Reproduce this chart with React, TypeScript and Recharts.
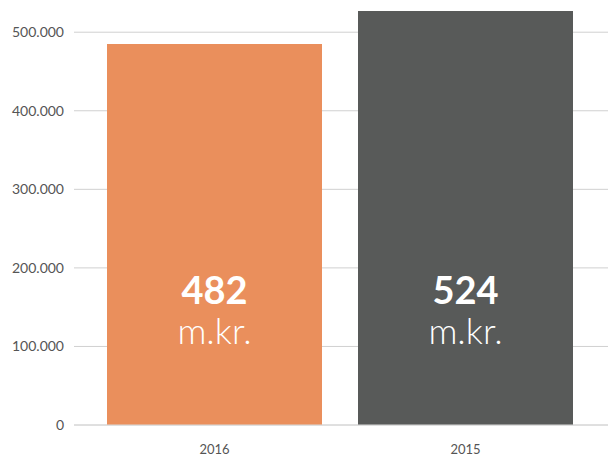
import { BarChart, Bar, XAxis, YAxis, CartesianGrid, Cell, LabelList } from "recharts";

const years = ["2016", "2015"];
const amounts = [485000, 527000];
const amountLabels = ["482", "524"];
const unitLabel = "m.kr.";
const barColors = ["#EA8F5C", "#585A59"];
const yTicks = [0, 100000, 200000, 300000, 400000, 500000];

const data = years.map((year, i) => ({
  year,
  amount: amounts[i],
  label: amountLabels[i],
}));

const yMax = Math.max(...amounts);

const fmt = (n: number) => (n === 0 ? "0" : n.toLocaleString("de-DE"));

function InsideLabel(props: any) {
  const { x, y, width, height, index } = props;
  const cx = x + width / 2;
  const bottom = y + height;
  return (
    <g>
      <text
        x={cx}
        y={bottom - 121}
        textAnchor="middle"
        fill="#fff"
        fontFamily="Lato, sans-serif"
        fontWeight={700}
        fontSize={38}
      >
        {amountLabels[index]}
      </text>
      <text
        x={cx}
        y={bottom - 81}
        textAnchor="middle"
        fill="#fff"
        fontFamily="Lato, sans-serif"
        fontWeight={300}
        fontSize={36}
      >
        {unitLabel}
      </text>
    </g>
  );
}

export default function App() {
  return (
    <div style={{ position: "absolute", left: 0, top: 0 }}>
      <BarChart
        width={608}
        height={462}
        data={data}
        margin={{ top: 11, right: 0, left: 0, bottom: 0 }}
      >
        <CartesianGrid
          vertical={false}
          stroke="#d0d0d0"
          horizontalCoordinatesGenerator={({ offset }: any) =>
            yTicks.map((t) => offset.top + offset.height * (1 - t / yMax))
          }
        />
        <XAxis
          dataKey="year"
          height={37}
          padding={{ left: 15, right: 17 }}
          tickLine={false}
          tickSize={0}
          tickMargin={20}
          axisLine={{ stroke: "#d8d8d8" }}
          tick={{ fill: "#555", fontSize: 13, fontFamily: "Lato, sans-serif" }}
        />
        <YAxis
          width={74}
          domain={[0, "dataMax"]}
          ticks={yTicks}
          tickFormatter={fmt}
          axisLine={false}
          tickLine={false}
          tickSize={0}
          tickMargin={10}
          tick={{ fill: "#555", fontSize: 14, fontFamily: "Lato, sans-serif" }}
        />
        <Bar dataKey="amount" barSize={215} isAnimationActive={false}>
          {data.map((d, i) => (
            <Cell key={d.year} fill={barColors[i]} />
          ))}
          <LabelList dataKey="label" content={InsideLabel} />
        </Bar>
      </BarChart>
    </div>
  );
}
